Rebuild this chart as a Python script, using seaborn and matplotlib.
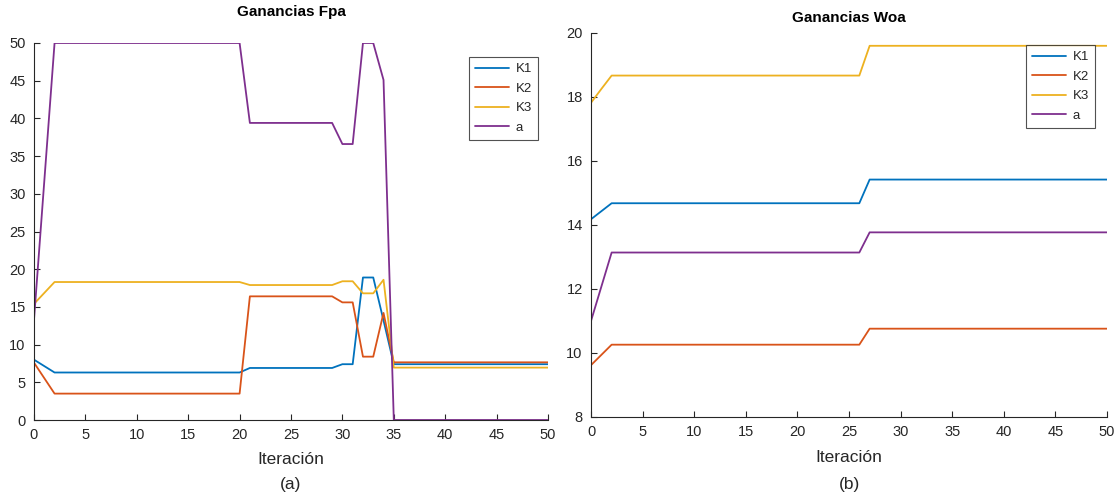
import numpy as np
import pandas as pd
import matplotlib
matplotlib.use("Agg")
import matplotlib.pyplot as plt
import seaborn as sns

iteraciones = list(range(51))
series_names = ["K1", "K2", "K3", "a"]
colors = ["#0072BD", "#D95319", "#EDB120", "#7E2F8E"]

# Ganancias Fpa
fpa_k1 = [8.0, 7.15,
          6.3, 6.3, 6.3, 6.3, 6.3, 6.3, 6.3, 6.3, 6.3, 6.3,
          6.3, 6.3, 6.3, 6.3, 6.3, 6.3, 6.3, 6.3, 6.3,
          6.9, 6.9, 6.9, 6.9, 6.9, 6.9, 6.9, 6.9, 6.9,
          7.4, 7.4, 18.9, 18.9, 13.2,
          7.4, 7.4, 7.4, 7.4, 7.4, 7.4, 7.4, 7.4,
          7.4, 7.4, 7.4, 7.4, 7.4, 7.4, 7.4, 7.4]
fpa_k2 = [7.6, 5.55,
          3.5, 3.5, 3.5, 3.5, 3.5, 3.5, 3.5, 3.5, 3.5, 3.5,
          3.5, 3.5, 3.5, 3.5, 3.5, 3.5, 3.5, 3.5, 3.5,
          16.4, 16.4, 16.4, 16.4, 16.4, 16.4, 16.4, 16.4, 16.4,
          15.6, 15.6, 8.4, 8.4, 14.2,
          7.65, 7.65, 7.65, 7.65, 7.65, 7.65, 7.65, 7.65,
          7.65, 7.65, 7.65, 7.65, 7.65, 7.65, 7.65, 7.65]
fpa_k3 = [15.4, 16.85,
          18.3, 18.3, 18.3, 18.3, 18.3, 18.3, 18.3, 18.3, 18.3, 18.3,
          18.3, 18.3, 18.3, 18.3, 18.3, 18.3, 18.3, 18.3, 18.3,
          17.9, 17.9, 17.9, 17.9, 17.9, 17.9, 17.9, 17.9, 17.9,
          18.4, 18.4, 16.8, 16.8, 18.6,
          6.95, 6.95, 6.95, 6.95, 6.95, 6.95, 6.95, 6.95,
          6.95, 6.95, 6.95, 6.95, 6.95, 6.95, 6.95, 6.95]
fpa_a = [13.3, 31.65,
         50.0, 50.0, 50.0, 50.0, 50.0, 50.0, 50.0, 50.0, 50.0, 50.0,
         50.0, 50.0, 50.0, 50.0, 50.0, 50.0, 50.0, 50.0, 50.0,
         39.4, 39.4, 39.4, 39.4, 39.4, 39.4, 39.4, 39.4, 39.4,
         36.6, 36.6, 50.0, 50.0, 45.1,
         0.0, 0.0, 0.0, 0.0, 0.0, 0.0, 0.0, 0.0,
         0.0, 0.0, 0.0, 0.0, 0.0, 0.0, 0.0, 0.0]

# Ganancias Woa
woa_k1 = [14.18, 14.43,
          14.68, 14.68, 14.68, 14.68, 14.68, 14.68, 14.68, 14.68, 14.68,
          14.68, 14.68, 14.68, 14.68, 14.68, 14.68, 14.68, 14.68, 14.68,
          14.68, 14.68, 14.68, 14.68, 14.68, 14.68, 14.68,
          15.42, 15.42, 15.42, 15.42, 15.42, 15.42, 15.42, 15.42,
          15.42, 15.42, 15.42, 15.42, 15.42, 15.42, 15.42, 15.42,
          15.42, 15.42, 15.42, 15.42, 15.42, 15.42, 15.42, 15.42]
woa_k2 = [9.62, 9.94,
          10.26, 10.26, 10.26, 10.26, 10.26, 10.26, 10.26, 10.26, 10.26,
          10.26, 10.26, 10.26, 10.26, 10.26, 10.26, 10.26, 10.26, 10.26,
          10.26, 10.26, 10.26, 10.26, 10.26, 10.26, 10.26,
          10.76, 10.76, 10.76, 10.76, 10.76, 10.76, 10.76, 10.76,
          10.76, 10.76, 10.76, 10.76, 10.76, 10.76, 10.76, 10.76,
          10.76, 10.76, 10.76, 10.76, 10.76, 10.76, 10.76, 10.76]
woa_k3 = [17.82, 18.25,
          18.67, 18.67, 18.67, 18.67, 18.67, 18.67, 18.67, 18.67, 18.67,
          18.67, 18.67, 18.67, 18.67, 18.67, 18.67, 18.67, 18.67, 18.67,
          18.67, 18.67, 18.67, 18.67, 18.67, 18.67, 18.67,
          19.6, 19.6, 19.6, 19.6, 19.6, 19.6, 19.6, 19.6,
          19.6, 19.6, 19.6, 19.6, 19.6, 19.6, 19.6, 19.6,
          19.6, 19.6, 19.6, 19.6, 19.6, 19.6, 19.6, 19.6]
woa_a = [11.0, 12.07,
         13.14, 13.14, 13.14, 13.14, 13.14, 13.14, 13.14, 13.14, 13.14,
         13.14, 13.14, 13.14, 13.14, 13.14, 13.14, 13.14, 13.14, 13.14,
         13.14, 13.14, 13.14, 13.14, 13.14, 13.14, 13.14,
         13.77, 13.77, 13.77, 13.77, 13.77, 13.77, 13.77, 13.77,
         13.77, 13.77, 13.77, 13.77, 13.77, 13.77, 13.77, 13.77,
         13.77, 13.77, 13.77, 13.77, 13.77, 13.77, 13.77, 13.77]

fpa_ticks_y = [0, 5, 10, 15, 20, 25, 30, 35, 40, 45, 50]
woa_ticks_y = [8, 10, 12, 14, 16, 18, 20]
ticks_x = [0, 5, 10, 15, 20, 25, 30, 35, 40, 45, 50]


def long_form(cols):
    frames = []
    for name, vals in zip(series_names, cols):
        frames.append(pd.DataFrame({"Iteración": iteraciones, "valor": vals, "serie": name}))
    return pd.concat(frames, ignore_index=True)


sns.set_theme(style="white")
plt.rcParams["font.family"] = ["Liberation Sans", "DejaVu Sans"]

W, H = 1117, 495
fig = plt.figure(figsize=(W / 100, H / 100), dpi=100)
ax1 = fig.add_axes([34 / W, 1 - 420 / H, (548 - 34) / W, (420 - 43) / H])
ax2 = fig.add_axes([591 / W, 1 - 417 / H, (1107 - 591) / W, (417 - 33) / H])

# axes, data, title, limits, y ticks, tag, title centre (px), legend corner (px), xlabel centre (px)
panels = [
    (ax1, long_form([fpa_k1, fpa_k2, fpa_k3, fpa_a]), "Ganancias Fpa", (0, 50), fpa_ticks_y,
     "(a)", 12, (469, 57), 460),
    (ax2, long_form([woa_k1, woa_k2, woa_k3, woa_a]), "Ganancias Woa", (8, 20), woa_ticks_y,
     "(b)", 18, (1026, 45), 458),
]

for ax, df, title, ylim, yticks, tag, title_px, leg_pos, xlab_px in panels:
    sns.lineplot(data=df, x="Iteración", y="valor", hue="serie", palette=colors,
                 linewidth=1.3, ax=ax, legend=True)
    ax.set_xlim(0, 50)
    ax.set_ylim(*ylim)
    ax.set_xticks(ticks_x)
    ax.set_yticks(yticks)
    ax.tick_params(direction="in", length=4, width=0.8, labelsize=10.5,
                   colors="#262626", bottom=True, left=True, pad=6)
    for side in ["top", "right"]:
        ax.spines[side].set_visible(False)
    for side in ["left", "bottom"]:
        ax.spines[side].set_color("#262626")
        ax.spines[side].set_linewidth(0.8)
    ax.set_ylabel("")
    ax.set_xlabel("")

    pos = ax.get_position()
    cx = (pos.x0 + pos.x1) / 2
    fig.text(cx, 1 - title_px / H, title, ha="center", va="center",
             fontsize=11, fontweight="bold", color="black")
    fig.text(cx, 1 - xlab_px / H, "Iteración", ha="center", va="center",
             fontsize=12.5, color="#262626")
    fig.text(cx, 1 - 484 / H, tag, ha="center", va="center",
             fontsize=12.5, color="#262626")

    handles, labels = ax.get_legend_handles_labels()
    leg = ax.legend(handles, labels, loc="upper left",
                    bbox_to_anchor=(leg_pos[0] / W, 1 - leg_pos[1] / H),
                    bbox_transform=fig.transFigure, frameon=True, fancybox=False,
                    fontsize=9.5, handlelength=2.6, handletextpad=0.5,
                    borderpad=0.45, labelspacing=0.55, borderaxespad=0)
    leg.get_frame().set_edgecolor("#262626")
    leg.get_frame().set_linewidth(0.8)
    for line in leg.get_lines():
        line.set_linewidth(1.3)

fig.savefig("out.png", dpi=100)
